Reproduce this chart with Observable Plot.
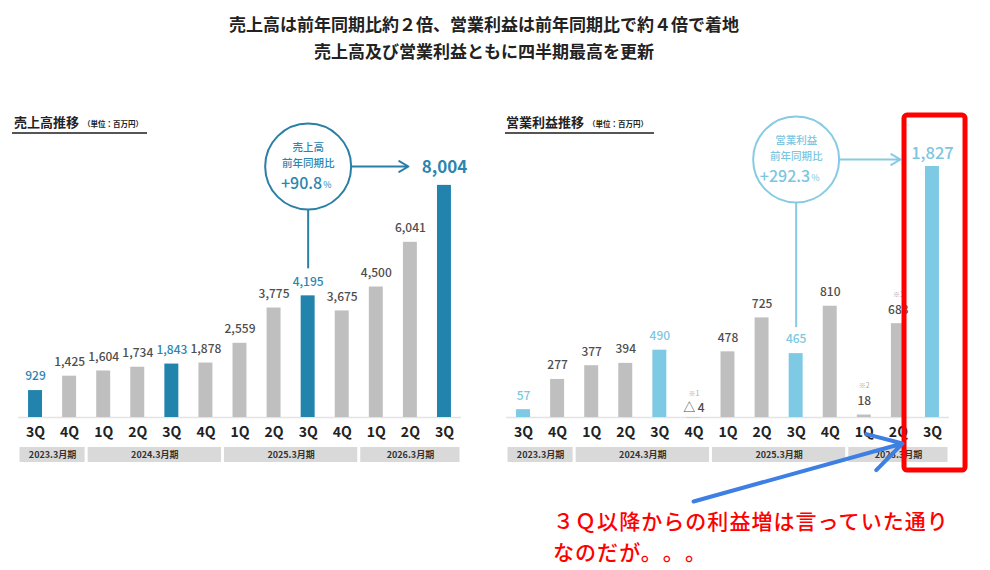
<!DOCTYPE html>
<html><head><meta charset="utf-8">
<script src="https://cdn.jsdelivr.net/npm/d3@7"></script>
<script src="https://cdn.jsdelivr.net/npm/@observablehq/plot@0.6"></script>
<style>
body{margin:0;background:#fff;font-family:"Noto Sans CJK JP","Noto Sans",sans-serif;}
#wrap{position:relative;width:990px;height:570px;overflow:hidden;background:#fff;}
.abs{position:absolute;}
.title{left:0;width:968px;text-align:center;font-size:17px;font-weight:bold;color:#222;line-height:22px;}
.hdr{font-size:13px;font-weight:bold;color:#222;line-height:16px;white-space:nowrap;}
.hdr small{font-size:7.5px;margin-left:4px;}
.uline{height:2px;background:#555;}
.memo{left:553px;font-size:21px;letter-spacing:0.05em;color:#f00;line-height:28px;font-weight:500;white-space:nowrap;text-spacing-trim:space-all;}
</style></head><body><div id="wrap">
<div class="abs title" style="top:13px">売上高は前年同期比約２倍、営業利益は前年同期比で約４倍で着地</div>
<div class="abs title" style="top:40px">売上高及び営業利益ともに四半期最高を更新</div>
<div class="abs hdr" style="left:14px;top:114px">売上高推移<small>（単位：百万円）</small></div>
<div class="abs uline" style="left:12px;top:132px;width:135px"></div>
<div class="abs hdr" style="left:506px;top:114px">営業利益推移<small>（単位：百万円）</small></div>
<div class="abs uline" style="left:505px;top:132px;width:149px"></div>
<div id="left" class="abs" style="left:0;top:60px"></div>
<div id="right" class="abs" style="left:488px;top:60px"></div>
<div class="abs memo" style="top:506px">３Ｑ以降からの利益増は言っていた通り</div>
<div class="abs memo" style="top:537px">なのだが。。。</div>
</div>
<script>
// ---- data ----
const quarters = ["3Q","4Q","1Q","2Q","3Q","4Q","1Q","2Q","3Q","4Q","1Q","2Q","3Q"];
const periods = ["2023.3月期","2024.3月期","2025.3月期","2026.3月期"];
const periodOf = [0,0,1,1,1,1,2,2,2,2,3,3,3];
const sales = [929,1425,1604,1734,1843,1878,2559,3775,4195,3675,4500,6041,8004];
const opIncome = [57,277,377,394,490,-4,478,725,465,810,18,683,1827];
const opNotes = ["","","","","","※1","","","","","※2","※3",""];
const highlighted = [true,false,false,false,true,false,false,false,true,false,false,false,true];
const salesBubble = ["売上高","前年同期比","+90.8"];
const opBubble = ["営業利益","前年同期比","+292.3"];

const FONT = '"Noto Sans CJK JP","Noto Sans",sans-serif';
const fmt = d3.format(",");
const bands = periods.map((label, p) => {
  const idx = periodOf.map((q, i) => q === p ? i : -1).filter(i => i >= 0);
  return {label, start: idx[0], end: idx[idx.length - 1]};
});

function chart(cfg) {
  const {values, notes, yMax, barColor, hiText, bubbleY, bubbleText, circleColor, lastFont, lastWeight, lastDy, arrowEnd, lineInset, extras} = cfg;
  const H = 290; // plot height in px
  const px = p => -p * yMax / H; // offset below baseline
  const rows = values.map((v, i) => ({i, v, q: quarters[i], hi: highlighted[i], note: notes ? notes[i] : "", last: i === values.length - 1}));
  const lastI = values.length - 1;
  const hiIdx = 8;
  const bub = [{i: hiIdx, by: bubbleY, v: values[hiIdx]}];
  return Plot.plot({
    width: 480, height: 450,
    marginLeft: 18, marginRight: 19, marginTop: 67, marginBottom: 93,
    x: {domain: [-0.5, 12.5], axis: null},
    y: {domain: [0, yMax], axis: null},
    color: {type: "identity"},
    style: {fontFamily: FONT, overflow: "visible", background: "transparent"},
    marks: [
      Plot.rect(bands, {x1: d => d.start - 0.5, x2: d => d.end + 0.5, y1: () => px(30), y2: () => px(45), fill: "#d9d9d9", insetLeft: 1.5, insetRight: 1.5}),
      Plot.text(bands, {x: d => (d.start + d.end) / 2, y: () => px(37.5), text: "label", fontSize: 9, fontWeight: "bold", fill: "#333"}),
      Plot.text(rows, {x: "i", y: () => 0, dy: 15, text: "q", fontSize: 14, fontWeight: "bold", fill: "#222"}),
      Plot.ruleY([0], {stroke: "#e3e3e3", strokeWidth: 1.5}),
      Plot.rect(rows, {x1: d => d.i - 0.205, x2: d => d.i + 0.205, y1: () => 0, y2: "v", fill: d => d.hi ? barColor : "#bfbfbf"}),
      Plot.text(rows.filter(d => !d.last && d.v >= 0), {x: "i", y: "v", dy: -14, text: d => fmt(d.v), fill: d => d.hi ? hiText : "#4d4d4d", fontSize: 12, fontWeight: 500}),
      Plot.text(rows.filter(d => d.v < 0), {x: "i", y: () => 0, dy: -9, text: d => "△ " + fmt(-d.v), fill: "#4d4d4d", fontSize: 12, fontWeight: 500}),
      Plot.text(rows.filter(d => d.note && d.v >= 0), {x: "i", y: "v", dy: -29, text: "note", fill: "#aaa", fontSize: 7}),
      Plot.text(rows.filter(d => d.note && d.v < 0), {x: "i", y: () => 0, dy: -24, text: "note", fill: "#aaa", fontSize: 7}),
      Plot.text(rows.filter(d => d.last), {x: "i", y: "v", dy: lastDy, text: d => fmt(d.v), fill: hiText, fontSize: lastFont, fontWeight: lastWeight}),
      Plot.ruleX(bub, {x: "i", y1: "by", y2: "v", insetBottom: lineInset, stroke: circleColor, strokeWidth: 2}),
      Plot.dot(bub, {x: "i", y: "by", r: 43, stroke: circleColor, strokeWidth: 2, fill: "white"}),
      Plot.arrow(bub, {x1: "i", y1: "by", x2: () => lastI, y2: "by", insetStart: 43, insetEnd: arrowEnd, stroke: circleColor, strokeWidth: 2, headLength: 8}),
      Plot.text(bub, {x: "i", y: "by", dy: -18.5, text: () => bubbleText[0], fill: hiText, fontSize: 10.5, fontWeight: 500}),
      Plot.text(bub, {x: "i", y: "by", dy: -3, text: () => bubbleText[1], fill: hiText, fontSize: 10.5, fontWeight: 500}),
      Plot.text(bub, {x: "i", y: "by", dy: 17, dx: 14, textAnchor: "end", text: () => bubbleText[2], fill: hiText, fontSize: 16, fontWeight: 500}),
      Plot.text(bub, {x: "i", y: "by", dy: 19, dx: 15, textAnchor: "start", text: () => "%", fill: hiText, fontSize: 9}),
      ...(extras ? extras(px) : [])
    ]
  });
}

document.getElementById("left").append(chart({
  values: sales, notes: null, yMax: 10000,
  barColor: "#2284ad", hiText: "#2a86b0", circleColor: "#2a7fa6",
  bubbleY: 8655, bubbleText: salesBubble,
  lastFont: 17, lastWeight: "bold", lastDy: -18, arrowEnd: 36, lineInset: 27
}));

document.getElementById("right").append(chart({
  values: opIncome, notes: opNotes, yMax: 2111,
  barColor: "#7ecae4", hiText: "#7cc6e0", circleColor: "#86cbe3",
  bubbleY: 1878, bubbleText: opBubble,
  lastFont: 16.5, lastWeight: 500, lastDy: -13, arrowEnd: 32, lineInset: 26,
  extras: px => [
    Plot.rect([{x1: 11.18, x2: 12.97, y1: px(53), y2: 2198}], {x1: "x1", x2: "x2", y1: "y1", y2: "y2", fill: "none", stroke: "#ff0000", strokeWidth: 5, rx: 3}),
    Plot.arrow([{x1: 4.99, y1: px(84), x2: 11.12, y2: px(26)}], {x1: "x1", y1: "y1", x2: "x2", y2: "y2", stroke: "#3d7fe3", strokeWidth: 4, headLength: 14})
  ]
}));
</script>
</body></html>
